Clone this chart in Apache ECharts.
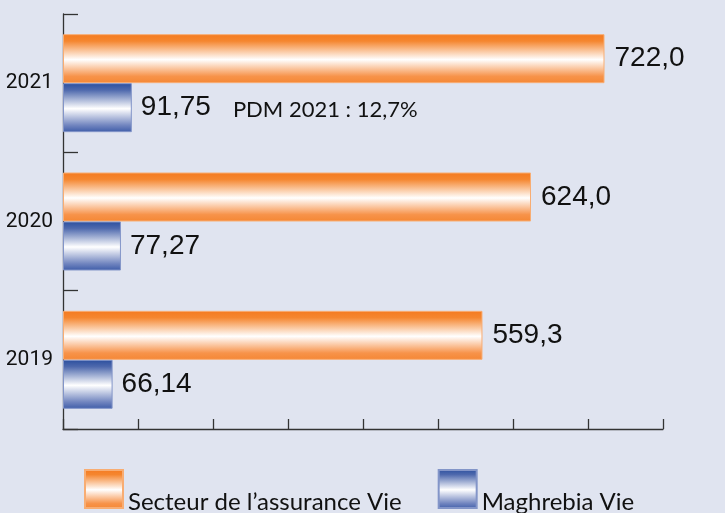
<!DOCTYPE html>
<html lang="fr">
<head>
    <meta charset="UTF-8">
    <title>Assurance Vie</title>
    <script src="https://cdn.jsdelivr.net/npm/echarts@6/dist/echarts.min.js"></script>
    <style>
        html, body { margin: 0; padding: 0; background: #e0e4f0; }
    </style>
</head>
<body>
<div id="main" style="width: 725px;height: 513px"></div>
<script>
    // données
    var years = ['2021', '2020', '2019'];
    var secteurVie = [722.0, 624.0, 559.3];
    var maghrebiaVie = [91.75, 77.27, 66.14];
    var seriesNames = ['Secteur de l\u2019assurance Vie', 'Maghrebia Vie'];
    var pdmNote = 'PDM 2021 : 12,7%';   // note à côté de la barre 2021

    var condensed = 'Roboto, Lato, sans-serif';
    var regular = '"Liberation Sans", Arial, sans-serif';
    var lato = 'Lato, Roboto, sans-serif';

    // dégradé vertical avec reflet blanc au milieu
    function grad(stops) {
        return new echarts.graphic.LinearGradient(0, 0, 0, 1, stops.map(function (s) {
            return {offset: s[0], color: s[1]};
        }));
    }
    var orangeGrad = [[0, '#f47a20'], [0.14, '#f5862f'], [0.52, '#ffffff'], [0.86, '#f7934a'], [1, '#f58734']];
    var blueGrad = [[0, '#2b4f9e'], [0.14, '#4e69ad'], [0.52, '#ffffff'], [0.86, '#7185bf'], [1, '#3e5ca8']];

    function frNum(v, d) {
        return v.toFixed(d).replace('.', ',');
    }

    var myChart = echarts.init(document.getElementById('main'));
    var option = {
        backgroundColor: '#e0e4f0',
        animation: false,
        grid: {left: 63, top: 14, width: 600, bottom: 84},
        legend: {
            left: 79,
            top: 464,
            icon: 'rect',
            itemWidth: 38,
            itemHeight: 38,
            itemGap: 36,
            data: seriesNames,
            formatter: function (name) { return '{t|' + name + '}'; },
            textStyle: {
                rich: {
                    t: {
                        fontFamily: lato,
                        fontSize: 24,
                        color: '#111',
                        lineHeight: 50,
                        verticalAlign: 'bottom'
                    }
                }
            }
        },
        xAxis: {
            type: 'value',
            min: 0,
            max: 800,
            interval: 100,
            axisLine: {show: true, lineStyle: {color: '#333', width: 1.3}},
            axisTick: {show: true, inside: true, length: 10, lineStyle: {color: '#333', width: 1.3}},
            axisLabel: {show: false},
            splitLine: {show: false}
        },
        yAxis: {
            type: 'category',
            inverse: true,
            data: years,
            axisLine: {show: true, lineStyle: {color: '#333', width: 1.3}},
            axisTick: {show: true, inside: true, length: 15, lineStyle: {color: '#333', width: 1.3}},
            axisLabel: {
                margin: 10,
                fontFamily: condensed,
                fontSize: 21,
                color: '#111'
            }
        },
        series: [{
            name: seriesNames[0],
            type: 'bar',
            barWidth: 49,
            barGap: '0%',
            itemStyle: {
                color: grad(orangeGrad),
                borderColor: '#f8ad73',
                borderWidth: 1
            },
            label: {
                show: true,
                position: 'right',
                distance: 10,
                fontFamily: regular,
                fontSize: 28,
                color: '#111',
                formatter: function (p) { return frNum(p.value, 1); }
            },
            data: secteurVie
        }, {
            name: seriesNames[1],
            type: 'bar',
            barWidth: 49,
            itemStyle: {
                color: grad(blueGrad),
                borderColor: '#8395c8',
                borderWidth: 1
            },
            label: {
                show: true,
                position: 'right',
                distance: 9,
                color: '#111',
                formatter: function (p) {
                    var s = '{v|' + frNum(p.value, 2) + '}';
                    if (p.name === '2021') s += '{p|' + pdmNote + '}';
                    return s;
                },
                rich: {
                    v: {fontFamily: regular, fontSize: 28, color: '#111'},
                    p: {fontFamily: lato, fontSize: 22, color: '#111', padding: [4, 0, 0, 22]}
                }
            },
            data: maghrebiaVie
        }]
    };
    myChart.setOption(option);
</script>
</body>
</html>
